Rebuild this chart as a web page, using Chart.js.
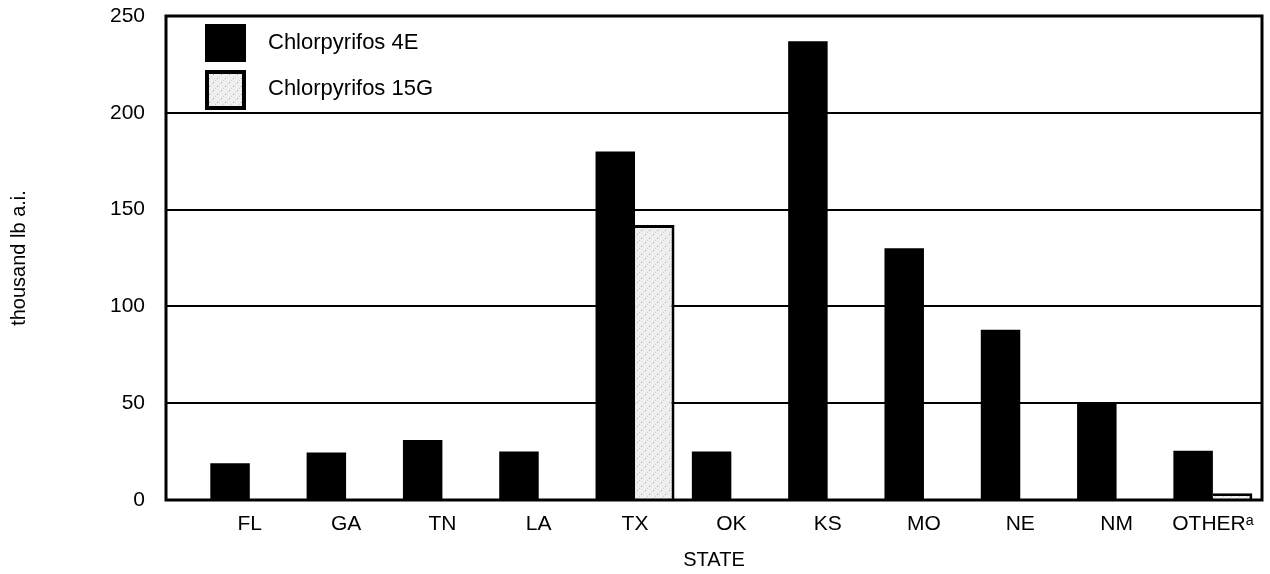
<!DOCTYPE html>
<html>
<head>
<meta charset="utf-8">
<script src="https://cdn.jsdelivr.net/npm/chart.js@4.4.1/dist/chart.umd.min.js"></script>
<style>
  html, body { margin: 0; padding: 0; background: #fff; }
  #wrap { width: 1270px; height: 574px; }
</style>
</head>
<body>
<div id="wrap"><canvas id="stateChart"></canvas></div>
<script>
// values (thousand lb a.i.)
var states = ['FL', 'GA', 'TN', 'LA', 'TX', 'OK', 'KS', 'MO', 'NE', 'NM', 'OTHER\u1d43'];
var chlor4E = [19, 24.5, 31, 25, 180, 25, 237, 130, 88, 50, 25.5];
var chlor15G = [null, null, null, null, 142, null, null, null, null, null, 3.5];
var yTicks = [0, 50, 100, 150, 200, 250];

var fontFam = '"Liberation Sans", Arial, Helvetica, sans-serif';

// light stipple fill for the 15G bars
function makeStipple() {
    var c = document.createElement('canvas');
    c.width = 8; c.height = 8;
    var g = c.getContext('2d');
    g.fillStyle = '#eeeeee';
    g.fillRect(0, 0, 8, 8);
    g.fillStyle = '#a8a8a8';
    g.fillRect(1, 6, 1, 1);
    g.fillRect(5, 2, 1, 1);
    g.fillStyle = '#cfcfcf';
    g.fillRect(3, 4, 1, 1);
    g.fillRect(7, 0, 1, 1);
    return g.createPattern(c, 'repeat');
}
var stipple = makeStipple();

function toPoints(arr) {
    var out = [];
    for (var i in arr) {
        out.push({ x: +i, y: arr[i] });
    }
    return out;
}

// frame round the plot plus the legend inside its top-left corner
var framePlugin = {
    id: 'frameAndLegend',
    afterDatasetsDraw: function(chart) {
        var ctx = chart.ctx;
        var a = chart.chartArea;
        ctx.save();
        ctx.strokeStyle = '#000';
        ctx.lineWidth = 3;
        ctx.strokeRect(a.left, a.top, a.right - a.left, a.bottom - a.top);

        var ds = chart.data.datasets;
        var bx = a.left + 39;
        var rows = [a.top + 8, a.top + 54];
        ctx.font = '22px ' + fontFam;
        ctx.textBaseline = 'middle';
        ctx.textAlign = 'left';
        for (var i = 0; i < ds.length; i++) {
            var by = rows[i];
            if (i === 0) {
                ctx.fillStyle = ds[i].backgroundColor;
                ctx.fillRect(bx, by, 41, 38);
            } else {
                ctx.fillStyle = ds[i].backgroundColor;
                ctx.fillRect(bx, by, 41, 40);
                ctx.lineWidth = 4;
                ctx.strokeStyle = '#000';
                ctx.strokeRect(bx + 2, by + 2, 37, 36);
            }
            ctx.fillStyle = '#000';
            ctx.fillText(ds[i].label, bx + 63, by + 19);
        }
        ctx.restore();
    }
};

var chartCanvas = document.getElementById('stateChart');

var stateChart = new Chart(chartCanvas, {
    type: 'bar',
    data: {
        datasets: [
            {
                label: 'Chlorpyrifos 4E',
                data: toPoints(chlor4E),
                backgroundColor: '#000000',
                borderWidth: 0
            },
            {
                label: 'Chlorpyrifos 15G',
                data: toPoints(chlor15G),
                backgroundColor: stipple,
                borderColor: '#000000',
                borderWidth: { top: 3, right: 3, left: 0, bottom: 0 },
                borderSkipped: 'bottom'
            }
        ]
    },
    options: {
        responsive: true,
        maintainAspectRatio: false,
        animation: false,
        layout: { padding: { top: 16, right: 8, left: 0, bottom: 0 } },
        categoryPercentage: 0.82,
        barPercentage: 1.0,
        plugins: {
            legend: { display: false },
            tooltip: { enabled: false }
        },
        scales: {
            x: {
                type: 'linear',
                offset: false,
                min: -0.87,
                max: 10.51,
                grid: { display: false, drawTicks: false, offset: false },
                border: { display: false },
                afterBuildTicks: function(scale) {
                    scale.ticks = states.map(function(s, i) { return { value: i }; });
                },
                afterFit: function(scale) {
                    scale.height = 74;
                    scale.paddingLeft = 0;
                    scale.paddingRight = 0;
                },
                ticks: {
                    autoSkip: false,
                    maxRotation: 0,
                    padding: 12,
                    color: '#000',
                    font: { family: fontFam, size: 21 },
                    callback: function(v) { return states[v]; }
                },
                title: {
                    display: true,
                    text: 'STATE',
                    color: '#000',
                    font: { family: fontFam, size: 20 },
                    padding: { top: 0, bottom: 2 }
                }
            },
            y: {
                min: 0,
                max: 250,
                afterBuildTicks: function(scale) {
                    scale.ticks = yTicks.map(function(v) { return { value: v }; });
                },
                afterFit: function(scale) {
                    scale.width = 166;
                    scale.paddingTop = 0;
                    scale.paddingBottom = 0;
                },
                grid: { color: '#000', lineWidth: 2, drawTicks: false },
                border: { display: false },
                ticks: {
                    padding: 21,
                    color: '#000',
                    font: { family: fontFam, size: 21 }
                },
                title: {
                    display: true,
                    text: 'thousand lb a.i.',
                    color: '#000',
                    font: { family: fontFam, size: 20 },
                    padding: { top: 7, bottom: 0 }
                }
            }
        }
    },
    plugins: [framePlugin]
});
</script>
</body>
</html>
